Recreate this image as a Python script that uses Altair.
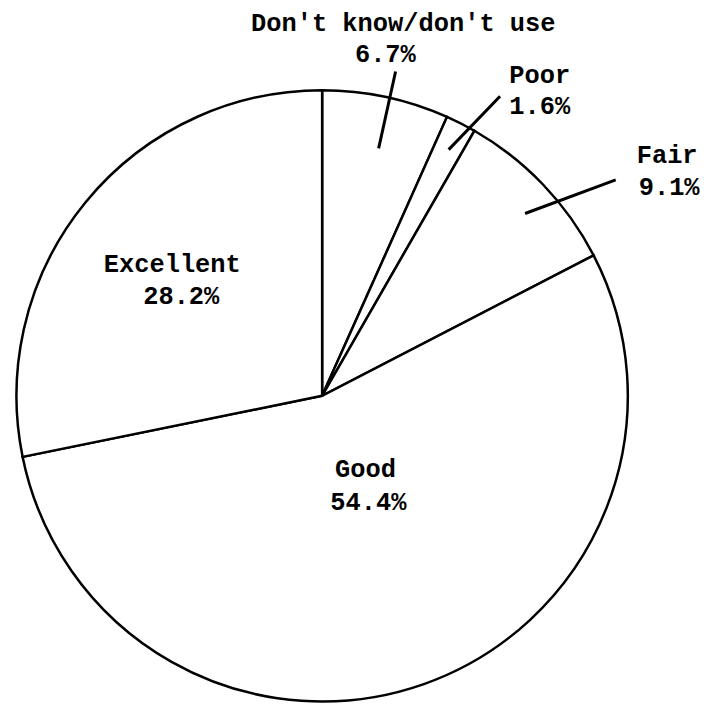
import math
import altair as alt
import pandas as pd

# ---- data ----
categories = ["Don't know/don't use", "Poor", "Fair", "Good", "Excellent"]
percents = [6.7, 1.6, 9.1, 54.4, 28.2]
pct_labels = ["6.7%", "1.6%", "9.1%", "54.4%", "28.2%"]

# ---- layout (pixels within plot area) ----
CX, CY, R = 315.5, 388.0, 307.0
name_xy = [(397, 14), (534, 66), (662, 146), (359, 462), (165, 256)]
pct_xy = [(379, 45), (534, 97), (664, 178), (362, 495), (174, 288)]
# leaders: (angle shift at start, r start, angle shift at end, r end) relative to slice mid angle
leader_for = ["Don't know/don't use", "Poor", "Fair"]
leader_geom = [(0.8, 255, 0.7, 334), (0.2, 278, 3.7, 350), (1.8, 274, 7.4, 366)]

# slice mid angles (degrees clockwise from 12 o'clock) from the data
cum = 0.0
mids = {}
for c, p in zip(categories, percents):
    mids[c] = (cum + p / 2) * 3.6
    cum += p

def polar(ang, r):
    a = math.radians(ang)
    return CX + r * math.sin(a), CY - r * math.cos(a)

pie_df = pd.DataFrame({"category": categories, "value": percents, "idx": list(range(len(categories)))})

rows = []
for c, p, (nx, ny), (px, py) in zip(categories, pct_labels, name_xy, pct_xy):
    rows.append({"text": c, "x": nx, "y": ny})
    rows.append({"text": p, "x": px, "y": py})
text_df = pd.DataFrame(rows)

lrows = []
for c, (a0, r0, a1, r1) in zip(leader_for, leader_geom):
    x0, y0 = polar(mids[c] + a0, r0)
    x1, y1 = polar(mids[c] + a1, r1)
    lrows.append({"x": x0, "y": y0, "x2": x1, "y2": y1})
leader_df = pd.DataFrame(lrows)

pie = alt.Chart(pie_df).mark_arc(
    fill="white", stroke="black", strokeWidth=2.5, outerRadius=R
).encode(
    theta=alt.Theta("value:Q", stack=True),
    order=alt.Order("idx:Q"),
    x=alt.value(CX),
    y=alt.value(CY),
)

leaders = alt.Chart(leader_df).mark_rule(color="black", strokeWidth=3).encode(
    x=alt.X("x:Q", scale=None),
    y=alt.Y("y:Q", scale=None),
    x2="x2:Q",
    y2="y2:Q",
)

labels = alt.Chart(text_df).mark_text(
    font="Liberation Mono", fontWeight="bold", fontSize=25.5, color="black",
    align="center", baseline="middle",
).encode(
    x=alt.X("x:Q", scale=None),
    y=alt.Y("y:Q", scale=None),
    text="text:N",
)

chart = alt.layer(pie, leaders, labels).properties(
    width=692, height=680, padding=0
).configure_view(stroke=None)

chart.save("out.html", embed_options={"renderer": "svg", "actions": False})
